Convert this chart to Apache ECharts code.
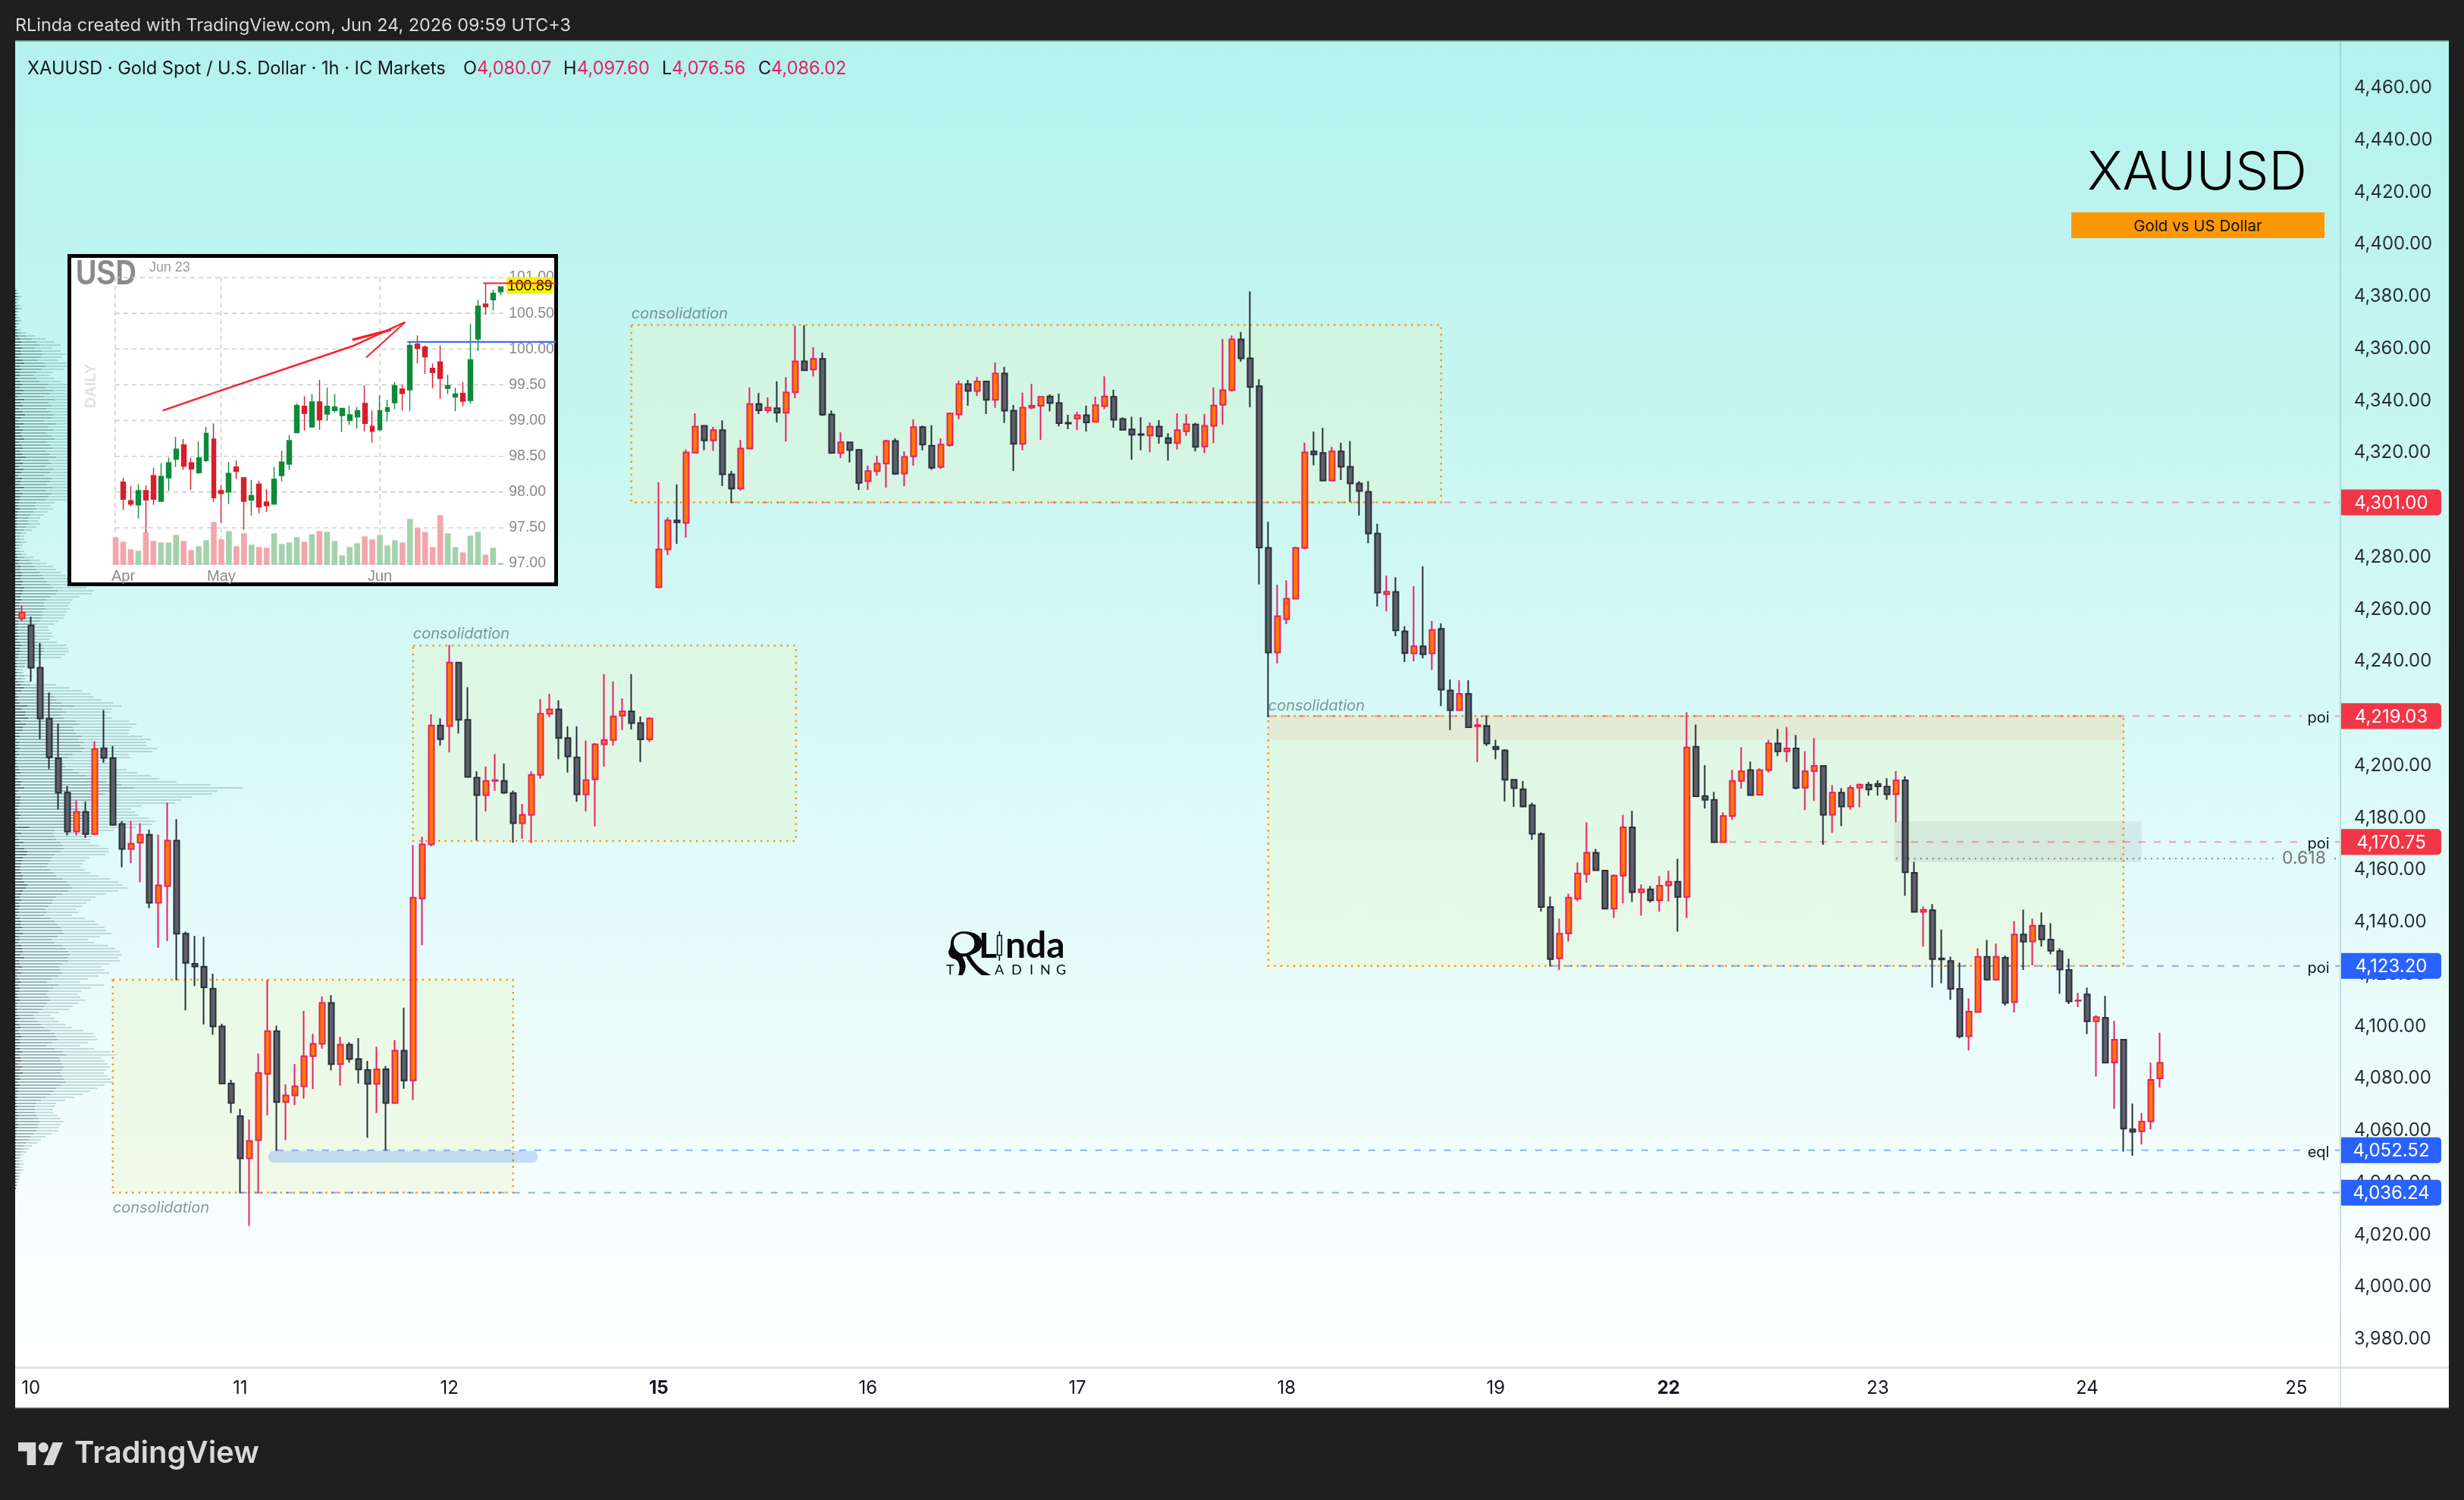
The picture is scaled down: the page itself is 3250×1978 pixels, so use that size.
<!DOCTYPE html>
<html><head><meta charset="utf-8"><title>XAUUSD</title>
<style>html,body{margin:0;padding:0;background:#1f1f1f}#c{width:3250px;height:1978px}</style>
<script src="https://cdn.jsdelivr.net/npm/echarts@6/dist/echarts.min.js"></script>
</head><body><div id="c"></div>
<script>
// ---------- XAUUSD 1h candles: [open, close, low, high] ----------
const xauOhlc = [
[4256.5,4258.8,4255.5,4261.5],[4253.8,4237.6,4232.3,4257.2],[4237.6,4218.1,4210.1,4247.1],[4218.1,4203.2,4198.7,4228.1],[4202.9,4189.7,4183.3,4216.2],
[4189.7,4174.8,4173.3,4192.2],[4174.8,4182.3,4173.3,4186.7],[4182.3,4173.8,4172.3,4186.3],[4173.8,4206.4,4173.3,4209.4],[4206.7,4203.0,4201.2,4221.4],
[4202.9,4177.3,4177.0,4207.6],[4177.7,4168.1,4161.0,4178.8],[4168.1,4170.1,4162.6,4178.8],[4170.5,4173.5,4155.3,4178.0],[4173.5,4147.4,4145.4,4175.5],
[4147.4,4154.1,4130.2,4173.5],[4153.8,4171.3,4132.7,4185.8],[4171.3,4135.6,4117.7,4179.5],[4135.6,4124.4,4106.2,4136.4],[4124.0,4123.0,4115.5,4134.7],
[4122.9,4115.0,4100.7,4134.4],[4114.5,4100.0,4096.8,4120.2],[4100.0,4078.1,4078.1,4101.0],[4078.1,4070.6,4066.8,4079.5],[4065.6,4049.4,4035.9,4068.4],
[4049.4,4056.1,4023.5,4064.3],[4056.4,4082.1,4035.9,4089.6],[4081.8,4098.2,4065.9,4117.9],[4098.2,4071.0,4052.2,4100.3],[4071.0,4073.5,4056.4,4077.8],
[4073.5,4077.0,4069.8,4085.6],[4077.0,4088.6,4072.3,4106.0],[4088.6,4093.3,4076.0,4097.2],[4093.3,4109.0,4091.5,4111.5],[4109.0,4085.5,4083.1,4112.0],
[4085.5,4093.0,4077.3,4096.0],[4093.0,4087.5,4086.1,4094.0],[4087.5,4083.5,4078.1,4095.5],[4083.3,4078.0,4057.3,4086.8],[4078.0,4083.6,4066.8,4092.2],
[4083.6,4070.6,4052.4,4084.8],[4070.6,4090.7,4070.6,4094.8],[4090.7,4079.3,4076.1,4107.2],[4079.3,4149.4,4071.8,4169.5],[4149.1,4169.8,4131.1,4172.8],
[4169.8,4215.4,4169.1,4219.7],[4215.4,4210.2,4207.7,4218.2],[4215.2,4239.6,4205.2,4246.3],[4239.6,4217.6,4212.4,4239.6],[4217.6,4195.7,4195.7,4230.1],
[4195.4,4188.7,4171.3,4197.9],[4188.7,4194.2,4182.5,4199.7],[4194.2,4194.5,4190.4,4204.5],[4194.2,4189.7,4189.2,4200.9],[4189.5,4178.0,4170.5,4190.5],
[4178.0,4181.2,4172.0,4185.3],[4181.2,4196.5,4170.3,4197.9],[4196.5,4219.9,4195.0,4225.6],[4219.9,4221.6,4218.6,4227.6],[4221.6,4210.6,4202.5,4225.1],
[4210.6,4203.6,4197.4,4215.1],[4203.2,4189.0,4186.2,4215.1],[4189.0,4194.5,4182.5,4209.7],[4194.8,4208.2,4176.7,4208.7],[4208.2,4209.9,4199.7,4235.1],
[4209.9,4218.9,4207.7,4232.4],[4219.2,4220.9,4213.7,4225.8],[4220.9,4216.4,4213.9,4235.1],[4216.4,4210.1,4201.4,4218.9],[4210.1,4218.1,4209.2,4218.6],
[4268.5,4283.0,4268.1,4308.7],[4283.0,4294.1,4280.8,4295.3],[4294.1,4293.4,4285.1,4307.9],[4293.2,4320.2,4287.5,4321.3],[4320.1,4330.1,4319.9,4335.2],
[4330.4,4324.8,4321.0,4330.4],[4324.8,4328.7,4320.8,4330.0],[4328.7,4311.8,4307.3,4332.5],[4311.8,4306.3,4300.7,4313.1],[4306.3,4321.7,4305.6,4325.0],
[4321.7,4338.8,4321.5,4345.1],[4338.8,4336.4,4334.9,4343.0],[4336.4,4337.4,4335.3,4341.3],[4337.2,4335.4,4331.7,4347.5],[4335.4,4343.2,4324.4,4349.1],
[4343.3,4355.1,4341.0,4368.8],[4355.1,4351.7,4351.7,4369.0],[4352.0,4356.1,4349.4,4360.6],[4356.1,4334.7,4334.2,4358.5],[4334.8,4320.0,4320.0,4336.3],
[4320.0,4324.1,4318.0,4327.9],[4324.1,4321.1,4316.3,4324.4],[4321.2,4308.5,4305.8,4321.2],[4309.2,4313.0,4305.8,4315.1],[4313.0,4315.9,4311.3,4318.9],
[4315.9,4324.6,4306.7,4325.0],[4324.6,4312.0,4311.6,4325.6],[4312.1,4318.5,4307.3,4320.6],[4318.7,4329.9,4315.1,4332.9],[4329.9,4323.2,4321.0,4330.5],
[4322.8,4314.3,4313.5,4330.6],[4314.6,4323.2,4313.8,4325.6],[4323.0,4335.1,4322.4,4335.5],[4334.8,4346.4,4332.9,4347.7],[4346.4,4343.8,4338.1,4348.0],
[4343.8,4347.4,4341.8,4349.1],[4347.4,4340.4,4334.9,4347.7],[4340.4,4350.5,4337.3,4354.7],[4350.5,4336.2,4331.5,4353.0],[4336.2,4323.5,4313.1,4338.4],
[4323.5,4337.4,4321.0,4343.1],[4337.4,4338.1,4336.8,4346.5],[4338.1,4341.5,4325.0,4341.8],[4341.7,4339.1,4335.9,4342.5],[4339.1,4331.4,4330.2,4342.8],
[4331.6,4331.3,4329.1,4334.6],[4333.2,4334.5,4328.8,4335.8],[4334.5,4331.7,4328.2,4338.1],[4331.9,4338.3,4331.7,4341.6],[4338.0,4341.7,4336.8,4349.4],
[4341.5,4332.7,4329.7,4344.2],[4333.0,4328.9,4328.6,4333.7],[4329.0,4327.0,4317.4,4333.9],[4327.2,4326.9,4321.0,4333.7],[4326.7,4330.1,4320.3,4331.7],
[4330.1,4326.4,4323.6,4332.6],[4325.7,4323.8,4317.1,4327.6],[4323.8,4328.7,4321.3,4335.2],[4328.3,4331.0,4326.6,4334.9],[4330.9,4322.3,4320.6,4331.6],
[4322.5,4330.4,4319.9,4334.9],[4330.4,4338.2,4323.8,4345.1],[4338.5,4344.1,4330.8,4363.7],[4344.1,4363.6,4343.6,4365.0],[4363.6,4356.3,4355.0,4366.4],
[4356.3,4345.3,4337.5,4382.0],[4345.6,4283.7,4269.5,4348.3],[4283.6,4243.4,4218.6,4293.6],[4243.4,4257.4,4239.3,4269.4],[4256.2,4264.1,4254.3,4271.1],
[4264.1,4283.6,4264.1,4284.0],[4283.6,4320.2,4283.0,4323.9],[4320.6,4319.4,4315.3,4328.2],[4320.0,4309.4,4309.2,4329.6],[4309.4,4320.6,4309.2,4322.3],
[4320.6,4314.7,4309.6,4323.9],[4314.7,4308.3,4301.2,4324.5],[4308.3,4305.4,4296.0,4309.2],[4305.1,4289.1,4285.4,4309.2],[4289.1,4266.4,4261.1,4292.8],
[4265.8,4266.8,4259.2,4272.9],[4266.7,4251.9,4249.7,4272.3],[4251.6,4243.2,4239.8,4253.5],[4243.1,4245.8,4240.1,4268.9],[4245.8,4242.8,4241.2,4276.5],
[4243.1,4252.1,4236.8,4255.6],[4252.5,4229.2,4222.9,4254.6],[4228.9,4221.3,4213.7,4233.1],[4221.3,4227.6,4221.3,4232.8],[4227.6,4214.8,4214.8,4232.8],
[4215.1,4215.6,4201.4,4218.2],[4215.3,4208.5,4207.6,4219.3],[4207.3,4206.3,4202.5,4210.0],[4205.9,4194.6,4186.3,4206.3],[4194.6,4191.4,4184.2,4194.6],
[4191.0,4184.4,4184.0,4194.1],[4184.9,4173.9,4171.6,4185.8],[4173.8,4145.8,4144.1,4174.5],[4145.8,4125.8,4123.0,4149.8],[4126.1,4135.6,4121.7,4141.4],
[4135.7,4149.4,4132.6,4150.9],[4149.0,4158.7,4148.0,4162.9],[4158.5,4166.6,4155.1,4178.3],[4166.6,4159.9,4159.9,4168.1],[4159.8,4145.2,4145.2,4159.8],
[4145.2,4157.8,4141.6,4158.3],[4157.8,4176.4,4147.2,4181.2],[4176.4,4151.5,4147.8,4182.7],[4151.5,4152.6,4142.5,4154.5],[4152.6,4148.4,4147.5,4153.9],
[4148.4,4154.0,4144.0,4157.7],[4154.1,4155.5,4147.9,4159.7],[4155.5,4149.7,4136.4,4164.3],[4149.7,4207.0,4141.6,4220.5],[4207.3,4188.3,4188.3,4215.8],
[4188.4,4186.9,4183.6,4200.2],[4186.9,4170.7,4170.7,4190.0],[4170.7,4180.7,4170.7,4182.1],[4180.7,4194.2,4179.2,4198.4],[4194.2,4197.9,4191.2,4207.1],
[4198.3,4188.7,4188.7,4201.6],[4188.9,4198.3,4188.9,4199.0],[4198.3,4208.6,4197.4,4210.0],[4208.6,4205.5,4203.7,4214.1],[4205.5,4206.6,4201.4,4214.9],
[4206.6,4191.5,4190.9,4211.8],[4191.6,4197.9,4183.0,4205.6],[4198.0,4199.9,4186.5,4210.6],[4199.9,4181.2,4169.7,4199.9],[4181.2,4189.7,4174.2,4192.6],
[4189.7,4184.4,4176.9,4191.4],[4184.4,4191.5,4183.1,4192.6],[4191.6,4192.7,4184.1,4193.2],[4192.7,4190.9,4188.5,4193.8],[4193.0,4192.1,4188.5,4194.4],
[4192.0,4189.0,4186.9,4195.2],[4189.1,4194.4,4178.3,4198.0],[4194.4,4159.1,4150.1,4196.0],[4158.9,4143.9,4143.9,4163.1],[4143.9,4144.7,4130.6,4146.0],
[4144.6,4125.8,4114.9,4146.9],[4126.1,4125.7,4116.6,4137.2],[4125.1,4114.4,4110.2,4126.8],[4114.4,4096.2,4095.4,4124.5],[4096.2,4105.7,4090.8,4110.8],
[4105.5,4126.7,4105.5,4130.0],[4126.7,4118.0,4117.5,4133.2],[4118.0,4126.7,4117.5,4131.8],[4126.3,4109.0,4108.0,4127.2],[4109.3,4135.3,4105.4,4140.4],
[4135.3,4132.5,4121.7,4144.8],[4132.6,4138.6,4123.4,4141.4],[4138.6,4133.4,4130.6,4143.7],[4133.3,4129.0,4127.7,4139.6],[4128.9,4121.8,4112.5,4130.0],
[4121.7,4109.6,4108.6,4126.0],[4109.8,4110.0,4107.4,4112.9],[4112.3,4102.0,4097.1,4114.9],[4102.0,4103.6,4080.8,4104.2],[4103.3,4086.1,4086.1,4111.7],
[4086.1,4094.9,4068.4,4102.1],[4094.9,4060.8,4052.0,4094.9],[4060.5,4059.6,4050.4,4070.4],[4059.8,4063.5,4054.7,4066.8],[4063.6,4079.5,4060.5,4086.1],
[4080.07,4086.02,4076.56,4097.60]];
const legendSymbol = 'XAUUSD · Gold Spot / U.S. Dollar · 1h · IC Markets';
const legendOhlc = [['O','4,080.07',611,629],['H','4,097.60',743,761],['L','4,076.56',873,886],['C','4,086.02',1000,1017]];
// day labels: [candle index, text, weekStart]
const dayLabels = [[1,'10',0],[24,'11',0],[47,'12',0],[70,'15',1],[93,'16',0],[116,'17',0],[139,'18',0],[162,'19',0],[181,'22',1],[204,'23',0],[227,'24',0],[250,'25',0]];
const priceTicks = [3980,4000,4020,4040,4060,4080,4100,4120,4140,4160,4180,4200,4220,4240,4260,4280,4300,4320,4340,4360,4380,4400,4420,4440,4460];
// zones: [first candle, last candle, top price, bottom price]
const zones = [[10,54,4117.9,4036.24],[43,85.1,4246.1,4171.1],[67,156,4369.1,4301],[137,231,4219.03,4123.2]];
const zoneNotes = [[10,4030.3],[43,4250.5],[67,4373.3],[137,4222.9]];
const poiBand = [[137,231,4219.03,4210.0]];
const fibBox = [[205.8,233,4178.6,4163.0]];
const liquidityBar = [[27.1,56.7,4052.3,4047.7]];
// levels: [first candle, price, 0 red / 1 blue, note index (0 none,1 poi,2 eql)]
const levels = [[78,4301.00,0,0],[137,4219.03,0,1],[186,4170.75,0,1],[168,4123.20,1,1],[28,4052.52,1,2],[24,4036.24,1,0]];
const fibLevel = [[206,4164.4]];
// ---------- visible range volume profile (bins from the top, px-like volume units) ----------
const profileTopPrice = 4382.33, profileBinSize = 1.1636;
const profileTotal = [3,5,8,6,4,7,9,5,3,6,8,6,4,
8,14,26,40,52,60,48,60,66,62,56,68,72,64,50,46,52,60,
82,76,92,85,70,96,84,90,78,86,94,88,72,98,83,91,76,89,95,80,87,93,74,85,99,81,88,77,92,84,70,90,86,79,94,73,88,82,76,
52,47,50,43,38,33,30,33,28,22,15,12,12,15,10,8,12,15,24,33,42,50,54,60,66,71,78,85,94,103,
101,85,76,72,70,72,68,66,64,58,52,43,45,48,50,46,55,68,70,71,66,60,30,25,22,
10,11,23,14,20,54,72,88,99,103,114,129,140,127,126,121,128,150,160,154,151,150,168,179,173,173,188,181,150,152,120,130,125,147,161,179,190,213,258,301,267,260,233,219,211,167,153,158,163,176,185,181,159,130,100,102,99,99,111,123,123,119,98,
92,89,86,92,100,110,125,136,142,148,136,120,106,100,94,89,80,84,75,92,105,110,118,120,127,112,96,104,122,132,138,140,136,138,124,113,118,124,110,96,85,117,100,88,82,86,92,84,76,71,58,47,52,58,66,75,90,103,106,108,96,85,104,125,134,113,118,122,125,120,117,122,126,129,118,108,99,90,78,66,54,52,50,50,56,60,64,60,58,57,48,40,34,29,22,18,15,10,8,10,11,9,11,8,7,6,4,3,1];
const profileMid = [2,3,5,3,2,4,5,3,2,3,5,4,2,
4,8,14,22,28,32,26,34,36,34,30,38,40,34,28,24,28,32,
44,40,50,46,38,52,44,48,42,46,50,48,38,54,44,50,40,48,52,42,46,50,40,46,54,44,48,40,50,46,38,48,46,42,50,40,48,44,40,
28,26,28,24,20,18,16,18,14,12,8,6,6,8,5,4,6,8,12,18,22,26,28,32,36,38,42,46,50,56,
54,46,42,38,38,40,36,36,34,32,28,24,24,26,28,24,30,36,38,38,36,32,16,13,12,
5,6,12,8,11,20,30,36,48,52,54,60,78,62,66,60,64,80,84,76,78,80,88,84,90,86,92,88,76,70,60,64,66,76,84,94,102,120,140,157,128,118,110,100,82,78,84,88,92,90,86,78,66,52,50,52,54,60,62,64,60,52,48,
46,44,42,46,50,54,62,68,72,76,70,62,54,50,48,44,40,42,38,46,52,56,60,62,64,56,48,52,62,66,70,72,70,70,62,58,60,62,56,48,42,58,50,44,42,44,46,42,38,36,30,24,26,30,34,38,46,52,54,56,48,42,52,62,68,58,60,62,64,62,60,62,64,66,60,54,50,46,40,34,28,26,26,26,28,30,32,30,30,28,24,20,18,14,12,10,8,6,5,5,6,5,6,4,4,3,2,2,1];
const profileDark = [1,1,2,1,1,1,2,1,1,1,2,1,1,2,3,4,6,8,5,9,7,8,5,10,12,6,8,5,6,4,7,
9,6,11,8,4,12,7,10,5,9,13,8,4,11,6,10,7,9,12,5,8,10,6,9,14,7,10,5,11,8,4,9,7,6,12,5,9,7,6,
5,4,6,4,3,3,2,3,2,2,1,1,1,2,1,1,1,2,3,5,4,7,6,8,9,7,10,8,12,10,
9,7,8,6,5,7,5,6,5,4,4,3,4,3,5,3,6,8,6,7,5,4,2,2,2,
1,2,2,1,4,7,11,8,2,4,3,6,16,8,14,13,17,7,14,10,9,5,6,2,5,4,6,3,5,2,2,2,4,5,7,2,4,8,7,12,4,2,7,6,6,5,3,4,7,5,1,2,19,3,8,2,5,11,5,12,16,15,10,
9,8,7,6,8,10,9,12,16,14,10,8,6,8,5,6,4,5,3,6,8,7,9,6,10,5,6,4,8,9,10,7,12,5,6,9,4,8,3,5,7,4,6,5,3,4,6,3,2,3,2,4,6,3,5,7,4,6,8,5,7,4,6,9,5,7,8,4,9,6,10,5,7,4,6,3,4,2,3,2,2,3,2,3,4,3,2,4,3,2,2,1,2,1,1,1,1,1,1,1,1,1,1,1,1,1,1,1,1];
// ---------- inset: USD index daily ----------
const usdOhlc = [[98.14,97.90,97.75,98.20],[97.88,97.83,97.80,98.08],[97.82,98.02,97.63,98.11],[98.02,97.89,97.43,98.09],[98.23,97.90,97.82,98.34],
[97.87,98.22,97.87,98.40],[98.20,98.41,98.02,98.48],[98.46,98.60,98.35,98.77],[98.66,98.36,98.31,98.74],[98.41,98.32,98.03,98.48],
[98.27,98.48,98.25,98.71],[98.44,98.82,98.42,98.91],[98.74,97.92,97.86,98.96],[98.02,97.98,97.57,98.10],[98.00,98.26,97.83,98.42],
[98.35,98.29,98.18,98.44],[98.20,97.87,97.47,98.21],[97.89,97.95,97.67,98.17],[98.11,97.79,97.70,98.16],[97.86,97.81,97.72,98.04],
[97.83,98.18,97.83,98.35],[98.23,98.42,98.15,98.58],[98.39,98.72,98.31,98.80],[98.83,99.21,98.83,99.24],[99.20,99.10,98.86,99.34],
[98.91,99.26,98.90,99.37],[99.26,99.01,98.87,99.57],[99.09,99.20,99.00,99.46],[99.14,99.19,99.11,99.37],[99.07,99.17,98.84,99.17],
[99.00,99.08,98.94,99.21],[99.05,99.14,98.89,99.19],[99.24,98.96,98.85,99.49],[98.92,98.85,98.69,99.14],[98.87,99.14,98.87,99.35],
[99.13,99.18,98.99,99.29],[99.25,99.49,99.16,99.54],[99.44,99.38,99.14,99.50],[99.43,100.05,99.13,100.10],[100.07,100.01,99.80,100.19],
[100.03,99.89,99.65,100.05],[99.73,99.67,99.45,99.80],[99.82,99.59,99.30,100.05],[99.45,99.49,99.37,99.64],[99.33,99.37,99.13,99.46],
[99.38,99.27,99.20,99.54],[99.28,99.85,99.24,100.35],[100.14,100.60,99.97,100.69],[100.63,100.59,100.48,100.92],[100.69,100.78,100.54,100.83],
[100.80,100.87,100.75,100.87]];
const usdVolume = [110,92,62,56,130,95,89,89,119,95,59,74,98,170,101,134,74,125,80,71,68,125,83,89,110,92,122,134,131,95,38,71,86,113,101,119,77,98,89,182,146,131,71,197,125,71,50,116,131,41,68,7];
const usdVolumeUp = [0,0,0,1,0,0,1,1,1,0,0,1,1,0,0,1,0,0,1,0,0,1,1,1,1,0,1,0,1,1,1,1,1,0,0,1,1,1,0,1,0,0,0,0,1,1,0,1,1,0,1,1];
const usdPriceTicks = [97,97.5,98,98.5,99,99.5,100,100.5,101];
const usdMonths = [[1,'Apr'],[14,'May'],[35,'Jun']];
const usdMonthLines = [0.43,14.46,35.5];
// arrow strokes in [band position, price]
const usdArrow = [[6.73,99.14],[14.68,99.43],[31.85,100.04],[38.84,100.375]];
const usdArrowBarbs = [[33.69,99.88]];
const usdArrowThick = [[31.85,100.13],[37.0,100.27]];
const usdResistance = [39.14,58.8,100.10];
const usdHigh = [49.2,58.8,100.92];
const usdLast = 100.89;

const fmt = v => v.toLocaleString('en-US',{minimumFractionDigits:2,maximumFractionDigits:2});
const RED='#f23645', BLUE='#2962ff', FONT='Inter';
const dayMap = new Map(dayLabels.map(d=>[d[0],d]));
const categories = Array.from({length:255},(_, i)=>dayMap.has(i)?dayMap.get(i)[1]+(dayMap.get(i)[2]?'*':''):'');
const usdCats = Array.from({length:52},(_,i)=>{const m=usdMonths.find(q=>q[0]===i);return m?m[1]:'';});

const profileRows = profileTotal.map((t,i)=>[t,profileMid[i]||0,profileDark[i]||0,profileTopPrice-i*profileBinSize]);

echarts.graphic.registerShape('tvLogo', echarts.graphic.extendPath('M14 22H7V11H0V4h14v18zM28 22h-8l7.5-18h8L28 22zM24 8a4 4 0 1 1-8 0a4 4 0 1 1 8 0z',{}));
echarts.graphic.registerShape('rlindaR', echarts.graphic.extendPath('M272 85C320 85 346 105 346 132C346 158 322 172 298 178C315 215 345 240 382 258L345 258C320 240 298 215 282 183L268 185C285 210 285 235 268 258L252 258C262 230 258 205 240 195C228 192 216 188 212 165C218 155 222 145 222 130C222 105 245 85 272 85ZM272 93C250 93 234 108 234 130C234 150 246 165 262 172L278 172C296 170 316 155 316 132C316 108 296 93 272 93Z',{}));

const chart = echarts.init(document.getElementById('c'),null,{renderer:'canvas',width:3250,height:1978});

const rect=(x,y,w,h,style,z,extra)=>Object.assign({type:'rect',shape:{x,y,width:w,height:h},style,z:z==null?20:z,silent:true},extra||{});
const txt=(x,y,text,style,z,extra)=>Object.assign({type:'text',x,y,z:z==null?20:z,silent:true,style:Object.assign({x:0,y:0,text,fontFamily:FONT,verticalAlign:'middle',align:'left'},style)},extra||{});

const graphics = [
  rect(20,54,3210,1749,{fill:new echarts.graphic.LinearGradient(0,0,0,1,[{offset:0,color:'#b3f2ed'},{offset:.5,color:'#d7f9f6'},{offset:1,color:'#ffffff'}])},-10),
  rect(20,1803,3210,54,{fill:'#ffffff'},-10),
  rect(20,1802,3067,3,{fill:'#e0e3e3'},-9),
  rect(3086,54,2,1803,{fill:'rgba(120,160,160,0.35)'},-9),
  rect(3088,1802,142,3,{fill:'#e0e3e3'},-9),
  rect(20,53,3210,1.5,{fill:'#5f7f80'},-9),
  rect(20,1856,3210,1.5,{fill:'#777777'},-9),
  txt(20,34,'RLinda created with TradingView.com, Jun 24, 2026 09:59 UTC+3',{fill:'#d9d9d9',fontSize:23.4}),
  txt(36,91,legendSymbol,{fill:'#131722',fontSize:23.6}),
  ...legendOhlc.flatMap(q=>[txt(q[2],91,q[0],{fill:'#131722',fontSize:23.6}),txt(q[3],91,q[1],{fill:'#e91e63',fontSize:23.6})]),
  txt(2898,229,'XAUUSD',{fill:'#000',fontSize:70,align:'center',fontWeight:300}),
  rect(2732,280,334,34,{fill:'#ff9800'}),
  txt(2899,299,'Gold vs US Dollar',{fill:'#111',fontSize:20.5,align:'center'}),
  // inset frame
  rect(91.5,337.5,642,433,{fill:'#ffffff',stroke:'#000000',lineWidth:5},1),
  txt(100,362,'USD',{fill:'#8a8a8a',fontSize:46,fontWeight:700,fontFamily:'Liberation Sans'},2,{scaleX:.82}),
  txt(197,353,'Jun 23',{fill:'#999',fontSize:19,fontFamily:'Liberation Sans'},2,{scaleX:.94}),
  {type:'text',x:120,y:509,rotation:Math.PI/2,z:2,silent:true,style:{x:0,y:0,text:'DAILY',align:'center',verticalAlign:'middle',fontFamily:'Liberation Sans',fontWeight:700,fontSize:20,fill:'#e2e2e2'}},
  // logo
  {type:'rlindaR',x:1180,y:1200,scaleX:1/3,scaleY:1/3,z:20,silent:true,style:{fill:'#0a0a0a'}},
  txt(1291,1248,'L',{fill:'#0a0a0a',fontSize:46,fontWeight:700,fontFamily:'Lato'}),
  {type:'line',z:20,silent:true,shape:{x1:1318.3,y1:1228,x2:1318.3,y2:1267},style:{stroke:'#0a0a0a',lineWidth:1.6}},
  rect(1315.5,1233.5,5.6,26,{fill:'#e6fafa',stroke:'#0a0a0a',lineWidth:1.6}),
  txt(1326,1248,'nda',{fill:'#0a0a0a',fontSize:48,fontWeight:700,fontFamily:'Lato'}),
  txt(1248,1279,'T',{fill:'#0a0a0a',fontSize:18,fontFamily:'Lato'}),
  txt(1312,1279,'A',{fill:'#0a0a0a',fontSize:18,fontFamily:'Lato'}),
  txt(1334,1279,'D',{fill:'#0a0a0a',fontSize:18,fontFamily:'Lato'}),
  txt(1358,1279,'I',{fill:'#0a0a0a',fontSize:18,fontFamily:'Lato'}),
  txt(1372,1279,'N',{fill:'#0a0a0a',fontSize:18,fontFamily:'Lato'}),
  txt(1393,1279,'G',{fill:'#0a0a0a',fontSize:18,fontFamily:'Lato'}),
  // footer
  {type:'tvLogo',x:24,y:1895.4,scaleX:1.66,scaleY:1.66,z:20,silent:true,style:{fill:'#d9d9d9'}},
  txt(98,1917,'TradingView',{fill:'#d9d9d9',fontSize:40,fontWeight:600})
];

const rectItem = (api,s,style,extraShape) => {
  const a=api.coord([api.value(0)+.5,api.value(2)]), b=api.coord([api.value(1)+.5,api.value(3)]);
  return {type:'rect',shape:Object.assign({x:a[0],y:a[1],width:b[0]-a[0],height:b[1]-a[1]},extraShape||{}),style};
};
const mainBand = {type:'custom',coordinateSystem:'cartesian2d',xAxisIndex:1,yAxisIndex:0,clip:false,silent:true,encode:{x:0,y:2}};
const insetBand = {type:'custom',coordinateSystem:'cartesian2d',xAxisIndex:4,yAxisIndex:1,clip:false,silent:true,encode:{x:0,y:1}};

const option = {
  animation:false,
  backgroundColor:'#1f1f1f',
  graphic:{elements:graphics},
  grid:[
    {left:22.8,top:54,width:3060,height:1749,containLabel:false,show:false},
    {left:147.6,top:366,width:517.66,height:379,containLabel:false,show:false}
  ],
  xAxis:[
    {type:'category',gridIndex:0,data:categories,boundaryGap:true,axisLine:{show:false},axisTick:{show:false},splitLine:{show:false},
     axisLabel:{interval:0,margin:16,fontFamily:FONT,fontSize:24,color:'#131722',
       formatter:v=>v.endsWith('*')?'{b|'+v.slice(0,-1)+'}':v,rich:{b:{fontFamily:FONT,fontSize:24,fontWeight:700,color:'#131722'}}}},
    {type:'value',gridIndex:0,show:false,min:0,max:255},
    {type:'value',gridIndex:0,show:false,min:2.8,max:3062.8},
    {type:'category',gridIndex:1,z:3,data:usdCats,boundaryGap:true,axisLine:{show:false},axisTick:{show:false},splitLine:{show:false},
     axisLabel:{interval:0,margin:5,fontFamily:'Liberation Sans',fontSize:20,color:'#8a8a8a'}},
    {type:'value',gridIndex:1,show:false,min:0,max:52}
  ],
  yAxis:[
    {type:'value',gridIndex:0,position:'right',min:3969.24,max:4478.04,axisLine:{show:false},axisTick:{show:false},splitLine:{show:false},
     axisLabel:{customValues:priceTicks,margin:22,align:'left',padding:[3,0,0,0],fontFamily:FONT,fontSize:24,color:'#2a2e39',formatter:v=>fmt(v)}},
    {type:'value',gridIndex:1,z:3,position:'right',min:96.98,max:101,axisLine:{show:false},axisTick:{show:false},splitLine:{show:false},
     axisLabel:{customValues:usdPriceTicks,margin:6,align:'left',fontFamily:'Liberation Sans',fontSize:19.5,color:'#8a8a8a',formatter:v=>v.toFixed(2)}},
    {type:'value',gridIndex:1,show:false,min:0,max:1137}
  ],
  series:[
    // volume profile
    {type:'custom',coordinateSystem:'cartesian2d',xAxisIndex:2,yAxisIndex:0,clip:false,silent:true,z:0,encode:{x:0,y:3},data:profileRows,
     renderItem:(p,api)=>{
       const y=api.coord([0,api.value(3)]), top=Math.round(y[1])-1;
       const r=(v,fill)=>{const e=api.coord([v,api.value(3)]);return {type:'rect',shape:{x:y[0],y:top,width:e[0]-y[0],height:2},style:{fill}};};
       return {type:'group',children:[r(api.value(0),'rgba(80,125,125,0.27)'),r(api.value(1),'rgba(80,105,105,0.30)'),r(api.value(2),'rgba(60,75,75,0.55)')]};
     }},
    // zones
    Object.assign({},mainBand,{z:2,data:zones,renderItem:(p,api)=>rectItem(api,p,{fill:'rgba(234,245,195,0.33)',stroke:'#ff9800',lineWidth:2.5,lineDash:[2.5,6]})}),
    Object.assign({},mainBand,{z:2,data:poiBand,renderItem:(p,api)=>rectItem(api,p,{fill:'rgba(245,146,100,0.12)'})}),
    Object.assign({},mainBand,{z:2,data:fibBox,renderItem:(p,api)=>rectItem(api,p,{fill:'rgba(120,120,130,0.12)'})}),
    Object.assign({},mainBand,{z:2,data:liquidityBar,renderItem:(p,api)=>rectItem(api,p,{fill:'rgba(41,98,255,0.22)'},{r:7})}),
    Object.assign({},mainBand,{z:3,encode:{x:0,y:1},data:zoneNotes,renderItem:(p,api)=>{
      const a=api.coord([api.value(0)+.5,api.value(1)]);
      return {type:'text',x:a[0],y:a[1],style:{x:0,y:0,text:'consolidation',fontFamily:FONT,fontStyle:'italic',fontSize:20,fill:'rgba(70,85,95,0.62)',verticalAlign:'middle'}};
    }}),
    // horizontal levels
    Object.assign({},mainBand,{z:3,encode:{x:0,y:1},data:levels,renderItem:(p,api)=>{
      const a=api.coord([api.value(0)+.5,api.value(1)]), note=api.value(3), stroke=api.value(2)?'rgba(41,98,255,0.5)':'rgba(242,54,69,0.45)';
      const line=(x1,x2)=>({type:'line',shape:{x1,y1:a[1],x2,y2:a[1]},style:{stroke,lineWidth:2,lineDash:[9,11]}});
      const kids=[line(a[0],note?3036:3086)];
      if(note){kids.push(line(3080,3086));kids.push({type:'text',x:3058,y:a[1]+3,style:{x:0,y:0,text:note===1?'poi':'eql',fontFamily:FONT,fontSize:20,fill:'#131722',align:'center',verticalAlign:'middle'}});}
      return {type:'group',children:kids};
    }}),
    Object.assign({},mainBand,{z:3,encode:{x:0,y:1},data:fibLevel,renderItem:(p,api)=>{
      const a=api.coord([api.value(0)+.5,api.value(1)]);
      const line=(x1,x2)=>({type:'line',shape:{x1,y1:a[1],x2,y2:a[1]},style:{stroke:'rgba(70,70,70,0.65)',lineWidth:2,lineDash:[2,6]}});
      return {type:'group',children:[line(a[0],3000),line(3079,3086),{type:'text',x:3039,y:a[1],style:{x:0,y:0,text:'0.618',fontFamily:FONT,fontSize:23,fill:'#757575',align:'center',verticalAlign:'middle'}}]};
    }}),
    // main candles
    {type:'candlestick',name:'XAUUSD',xAxisIndex:0,yAxisIndex:0,z:4,data:xauOhlc,barWidth:8,clip:false,silent:true,
     itemStyle:{color:'#ff7a00',color0:'#5d606b',borderColor:'#e91e63',borderColor0:'#2a2e39',borderWidth:2}},
    // price tags
    Object.assign({},mainBand,{z:6,encode:{x:0,y:1},data:levels,renderItem:(p,api)=>{
      const a=api.coord([0,api.value(1)]), fill=api.value(2)?BLUE:RED;
      return {type:'group',children:[
        {type:'rect',shape:{x:3088,y:a[1]-17,width:132,height:34,r:[0,5,5,0]},style:{fill}},
        {type:'text',x:3154,y:a[1]+1,style:{x:0,y:0,text:fmt(api.value(1)),fontFamily:FONT,fontSize:24,fill:'#ffffff',align:'center',verticalAlign:'middle'}}
      ]};
    }}),
    // inset: grid lines
    Object.assign({},insetBand,{z:2,data:usdPriceTicks.map(v=>[0,v]),renderItem:(p,api)=>{
      const a=api.coord([0.43,api.value(1)]), b=api.coord([52,api.value(1)]);
      return {type:'line',shape:{x1:a[0],y1:a[1],x2:b[0],y2:b[1]},style:{stroke:'#cfcfcf',lineWidth:1.6,lineDash:[6,5]}};
    }}),
    Object.assign({},insetBand,{z:2,data:usdMonthLines.map(v=>[v,97]),renderItem:(p,api)=>{
      const a=api.coord([api.value(0),101]), b=api.coord([api.value(0),96.98]);
      return {type:'line',shape:{x1:a[0],y1:a[1],x2:b[0],y2:b[1]},style:{stroke:'#cfcfcf',lineWidth:1.6,lineDash:[6,5]}};
    }}),
    {type:'bar',xAxisIndex:3,yAxisIndex:2,z:3,barWidth:7.6,silent:true,
     data:usdVolume.map((v,i)=>({value:v,itemStyle:{color:usdVolumeUp[i]?'#a3d2ad':'#f2a6ac'}}))},
    {type:'candlestick',name:'USD',xAxisIndex:3,yAxisIndex:1,z:4,barWidth:6.4,silent:true,
     data:[['-','-','-','-']].concat(usdOhlc),
     itemStyle:{color:'#0e8a3a',color0:'#d81e2c',borderColor:'#0e8a3a',borderColor0:'#d81e2c',borderWidth:1.4}},
    // inset annotations
    Object.assign({},insetBand,{z:5,data:[[0,0]],renderItem:(p,api)=>{
      const pts=usdArrow.map(q=>api.coord(q));
      const tip=pts[pts.length-1];
      return {type:'group',children:[
        {type:'polyline',shape:{points:pts},style:{stroke:'#f5222d',lineWidth:2.4,fill:null}},
        {type:'line',shape:{x1:api.coord(usdArrowBarbs[0])[0],y1:api.coord(usdArrowBarbs[0])[1],x2:tip[0],y2:tip[1]},style:{stroke:'#f5222d',lineWidth:2}},
        {type:'line',shape:{x1:api.coord(usdArrowThick[0])[0],y1:api.coord(usdArrowThick[0])[1],x2:api.coord(usdArrowThick[1])[0],y2:api.coord(usdArrowThick[1])[1]},style:{stroke:'#f5222d',lineWidth:3.4}}
      ]};
    }}),
    Object.assign({},insetBand,{z:5,data:[[0,usdLast]],renderItem:(p,api)=>{
      const r=api.coord([52.3,usdLast]), res0=api.coord([usdResistance[0],usdResistance[2]]), res1=api.coord([usdResistance[1],usdResistance[2]]), h0=api.coord([usdHigh[0],usdHigh[2]]), h1=api.coord([usdHigh[1],usdHigh[2]]);
      return {type:'group',children:[
        {type:'rect',shape:{x:r[0],y:r[1]-11,width:61,height:22},style:{fill:'#ffee00'}},
        {type:'text',x:r[0]+30.5,y:r[1]+1,style:{x:0,y:0,text:usdLast.toFixed(2),fontFamily:'Liberation Sans',fontSize:19.5,fill:'#111',align:'center',verticalAlign:'middle'}},
        {type:'line',shape:{x1:res0[0],y1:res0[1],x2:res1[0],y2:res1[1]},style:{stroke:'#3d6ff0',lineWidth:2.4}},
        {type:'line',shape:{x1:h0[0],y1:h0[1],x2:h1[0],y2:h1[1]},style:{stroke:'#f5222d',lineWidth:2}}
      ]};
    }})
  ]
};
chart.setOption(option);
</script></body></html>
